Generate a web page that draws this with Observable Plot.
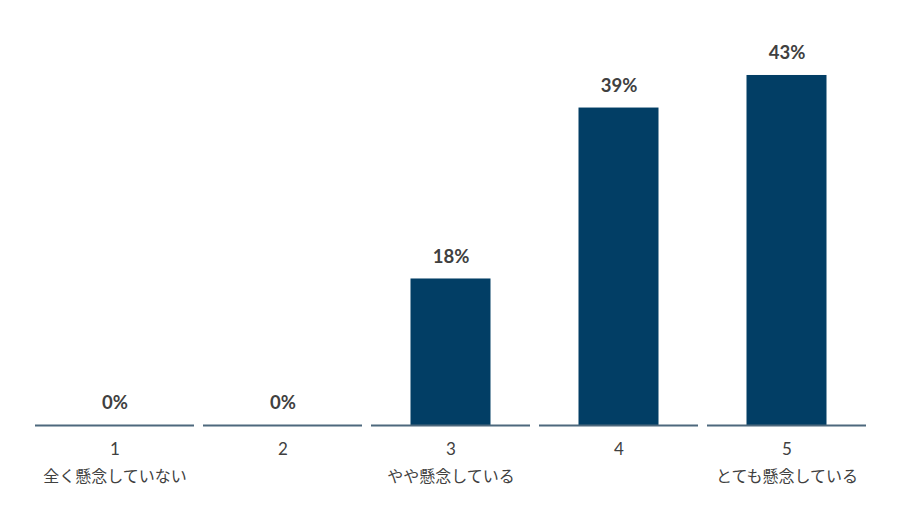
<!DOCTYPE html>
<html>
<head>
<meta charset="utf-8">
<script src="https://cdn.jsdelivr.net/npm/d3@7"></script>
<script src="https://cdn.jsdelivr.net/npm/@observablehq/plot@0.6"></script>
<style>
  html, body { margin: 0; padding: 0; background: #fff; }
  #chart { width: 900px; height: 520px; }
</style>
</head>
<body>
<div id="chart"></div>
<script>
const categories = ["1", "2", "3", "4", "5"];
const categoryLabels = ["全く懸念していない", "", "やや懸念している", "", "とても懸念している"];
const values = [0, 0, 18, 39, 43];

const data = categories.map((c, i) => ({cat: c, label: categoryLabels[i], value: values[i]}));
const labelOf = new Map(data.map(d => [d.cat, d.label]));

const font = "Lato, 'Noto Sans CJK JP', sans-serif";

const chart = Plot.plot({
  width: 900,
  height: 520,
  marginTop: 18,
  marginBottom: 95,
  marginLeft: 34,
  marginRight: 34,
  style: {fontFamily: font, background: "#fff"},
  x: {domain: categories, paddingInner: 0.054, paddingOuter: 0, axis: null, label: null},
  y: {domain: [0, 50], axis: null, label: null},
  marks: [
    Plot.barY(data, {x: "cat", y: "value", fill: "#023e65", insetLeft: 39.5, insetRight: 39.5}),
    Plot.tickY(data, {x: "cat", y: () => 0, stroke: "#4d687d", strokeWidth: 2}),
    Plot.text(data, {
      x: "cat", y: "value", text: d => d.value + "%",
      dy: -22, fontSize: 18.5, fontWeight: 700, fill: "#404040", lineAnchor: "middle"
    }),
    Plot.axisX({
      tickSize: 0, tickPadding: 17, fontSize: 17, color: "#404040", label: null,
      tickFormat: d => d, fontFamily: font
    }),
    Plot.axisX({
      tickSize: 0, tickPadding: 45, fontSize: 16, color: "#404040", label: null,
      tickFormat: d => labelOf.get(d), fontFamily: "'Noto Sans CJK JP', sans-serif"
    })
  ]
});
document.getElementById("chart").appendChild(chart);
</script>
</body>
</html>
